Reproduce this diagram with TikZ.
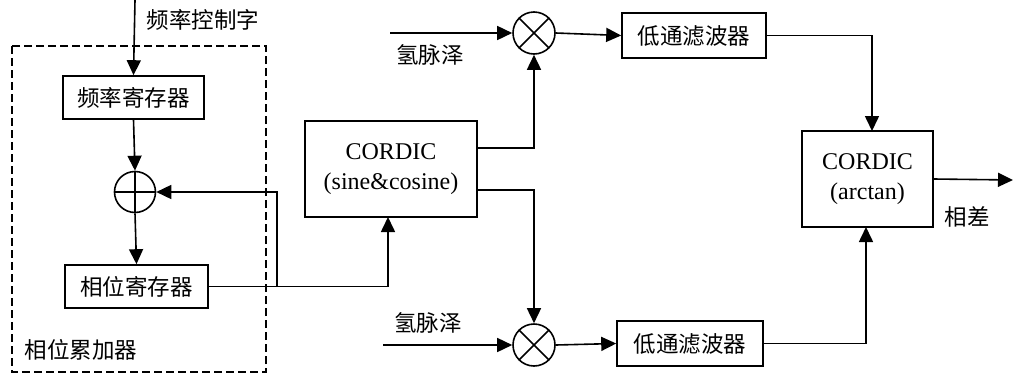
\documentclass[tikz,border=0pt]{standalone}
\usepackage{fontspec}
\setmainfont{Liberation Serif}
\newfontfamily\cjk{Noto Sans CJK SC}
\usetikzlibrary{arrows.meta,calc}
\begin{document}
\begin{tikzpicture}[x=1pt,y=-1pt,
  line width=1.6pt,
  arr/.style={-{Triangle[length=15pt,width=14pt]}},
  blk/.style={draw,rectangle,inner sep=0pt,font=\cjk\fontsize{22.5}{26}\selectfont},
  cblk/.style={draw,rectangle,inner sep=0pt,align=center,font=\fontsize{24}{30}\selectfont},
  lbl/.style={inner sep=0pt,font=\cjk\fontsize{22.5}{26}\selectfont},
  addr/.style={draw,circle,minimum size=41pt,inner sep=0pt,
    path picture={\draw[line width=1.6pt] (path picture bounding box.west)--(path picture bounding box.east)
      (path picture bounding box.north)--(path picture bounding box.south);}},
  mulr/.style={draw,circle,minimum size=42pt,inner sep=0pt,
    path picture={\draw[line width=1.6pt] (path picture bounding box.north west)--(path picture bounding box.south east)
      (path picture bounding box.north east)--(path picture bounding box.south west);}}
]
\useasboundingbox (0,0) rectangle (1013,378);
% accumulator dashed frame
\draw[line width=2.6pt,dash pattern=on 8pt off 4pt] (12,46) rectangle (266,372);
\node[lbl] (acc) at (81,350) {相位累加器};
% nodes
\coordinate (ctrl) at (135,0);
\node[lbl] (ctrllbl) at (203,20) {频率控制字};
\node[blk,minimum width=141pt,minimum height=43pt] (freq) at (133.5,97.5) {频率寄存器};
\node[addr] (adder) at (135,192) {};
\node[blk,minimum width=143pt,minimum height=43pt] (phase) at (136.5,286.5) {相位寄存器};
\node[cblk,minimum width=172pt,minimum height=96pt] (cordic1) at (391,169) {CORDIC\\(sine\&cosine)};
\node[mulr] (mul1) at (534,33) {};
\node[mulr] (mul2) at (534,345) {};
\node[blk,minimum width=144pt,minimum height=45pt] (lpf1) at (694,35.5) {低通滤波器};
\node[blk,minimum width=146pt,minimum height=45pt] (lpf2) at (690,343.5) {低通滤波器};
\node[cblk,minimum width=131pt,minimum height=96pt] (cordic2) at (867.5,179) {CORDIC\\(arctan)};
\coordinate (fb) at (277,287);
\coordinate (c1a) at (477,148);
\coordinate (c1b) at (477,190);
\coordinate (h1) at (390,33);
\coordinate (h2) at (383,345);
\coordinate (out) at (1013,180);
\coordinate (c2n) at (872,131);
\coordinate (c2s) at (866,227);
\node[lbl] (h1lbl) at (430,55) {氢脉泽};
\node[lbl] (h2lbl) at (428,323) {氢脉泽};
\node[lbl] (diff) at (967,217) {相差};
% connectors
\draw[arr] (ctrl) -- (freq.north);
\draw[arr] (freq.south) -- (adder.north);
\draw[arr] (adder.south) -- (phase.north);
\draw[arr] (phase.east) -| (388,217);
\draw[arr] (fb) |- (adder.east);
\draw[arr] (c1a) -| (mul1.south);
\draw[arr] (c1b) -| (mul2.north);
\draw[arr] (h1) -- (mul1.west);
\draw[arr] (h2) -- (mul2.west);
\draw[arr] (mul1.east) -- (lpf1.west);
\draw[arr] (mul2.east) -- (lpf2.west);
\draw[arr] (lpf1.east) -| (c2n);
\draw[arr] (lpf2.east) -| (c2s);
\draw[arr] (cordic2.east) -- (out);
\end{tikzpicture}
\end{document}
